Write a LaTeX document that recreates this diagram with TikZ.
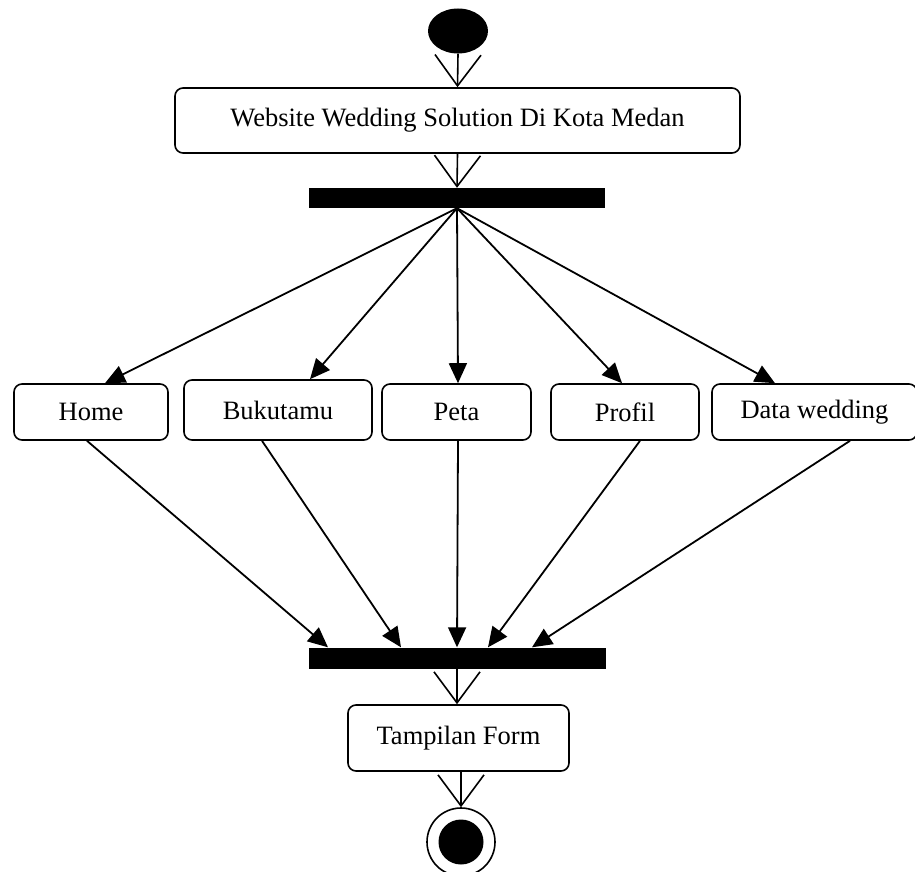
\documentclass[tikz,border=0pt]{standalone}
\usepackage{fontspec}
\setmainfont{Liberation Serif}
\usetikzlibrary{arrows.meta,shapes.geometric}
\begin{document}
\begin{tikzpicture}[x=1pt,y=-1pt,
  every node/.style={font=\fontsize{26.5}{31}\selectfont},
  action/.style={draw,rectangle,rounded corners=8pt,line width=1.6pt,inner sep=0pt},
  bar/.style={rectangle,fill=black,draw=none,inner sep=0pt},
  flow/.style={line width=1.6pt,-{Straight Barb[length=31pt,width=46pt]}},
  edge/.style={line width=1.8pt,-{Triangle[length=20pt,width=18pt]}}]
\useasboundingbox (0,0) rectangle (915,872);

% start and end states
\node[ellipse,fill=black,minimum width=60pt,minimum height=45pt,inner sep=0pt] (start) at (458,31) {};
\node[circle,draw,line width=1.6pt,minimum size=68pt,inner sep=0pt] (endo) at (461,842) {};
\node[circle,fill=black,minimum size=45pt,inner sep=0pt] (endi) at (461,842) {};

% actions
\node[action,minimum width=565pt,minimum height=65pt] (web) at (457.5,120.5) {Website Wedding Solution Di Kota Medan};
\node[action,minimum width=154pt,minimum height=56pt] (home) at (91,412) {Home};
\node[action,minimum width=188pt,minimum height=60pt] (buku) at (278,410) {Bukutamu};
\node[action,minimum width=149pt,minimum height=56pt] (peta) at (456.5,412) {Peta};
\node[action,minimum width=148pt,minimum height=56pt] (profil) at (625,412) {Profil};
\node[action,minimum width=205pt,minimum height=56pt] (data) at (814.5,412) {Data wedding};
\node[action,minimum width=221pt,minimum height=66pt] (tamp) at (458.5,738) {Tampilan Form};

% fork and join bars
\node[bar,minimum width=296pt,minimum height=20pt] (fork) at (457,198) {};
\node[bar,minimum width=297pt,minimum height=21pt] (join) at (457,658) {};

% control flow
\draw[flow] (start.south) -- (web.north);
\draw[flow] (web.south) -- (fork.north);
\draw[edge] (fork.south) -- ([xshift=14pt]home.north);
\draw[edge] (fork.south) -- ([xshift=32pt]buku.north);
\draw[edge] (fork.south) -- ([xshift=1.5pt]peta.north);
\draw[edge] (fork.south) -- ([xshift=-3pt]profil.north);
\draw[edge] (fork.south) -- ([xshift=-39.5pt]data.north);
\draw[edge] ([xshift=-4pt]home.south) -- ([xshift=-129pt]join.north);
\draw[edge] ([xshift=-16pt]buku.south) -- ([xshift=-56pt]join.north);
\draw[edge] ([xshift=1.5pt]peta.south) -- ([xshift=0pt]join.north);
\draw[edge] ([xshift=15pt]profil.south) -- ([xshift=31pt]join.north);
\draw[edge] ([xshift=35.5pt]data.south) -- ([xshift=75pt]join.north);
\draw[flow] (join.south) -- (join.south |- tamp.north);
\draw[flow] (tamp.south -| endo.north) -- (endo.north);
\end{tikzpicture}
\end{document}
